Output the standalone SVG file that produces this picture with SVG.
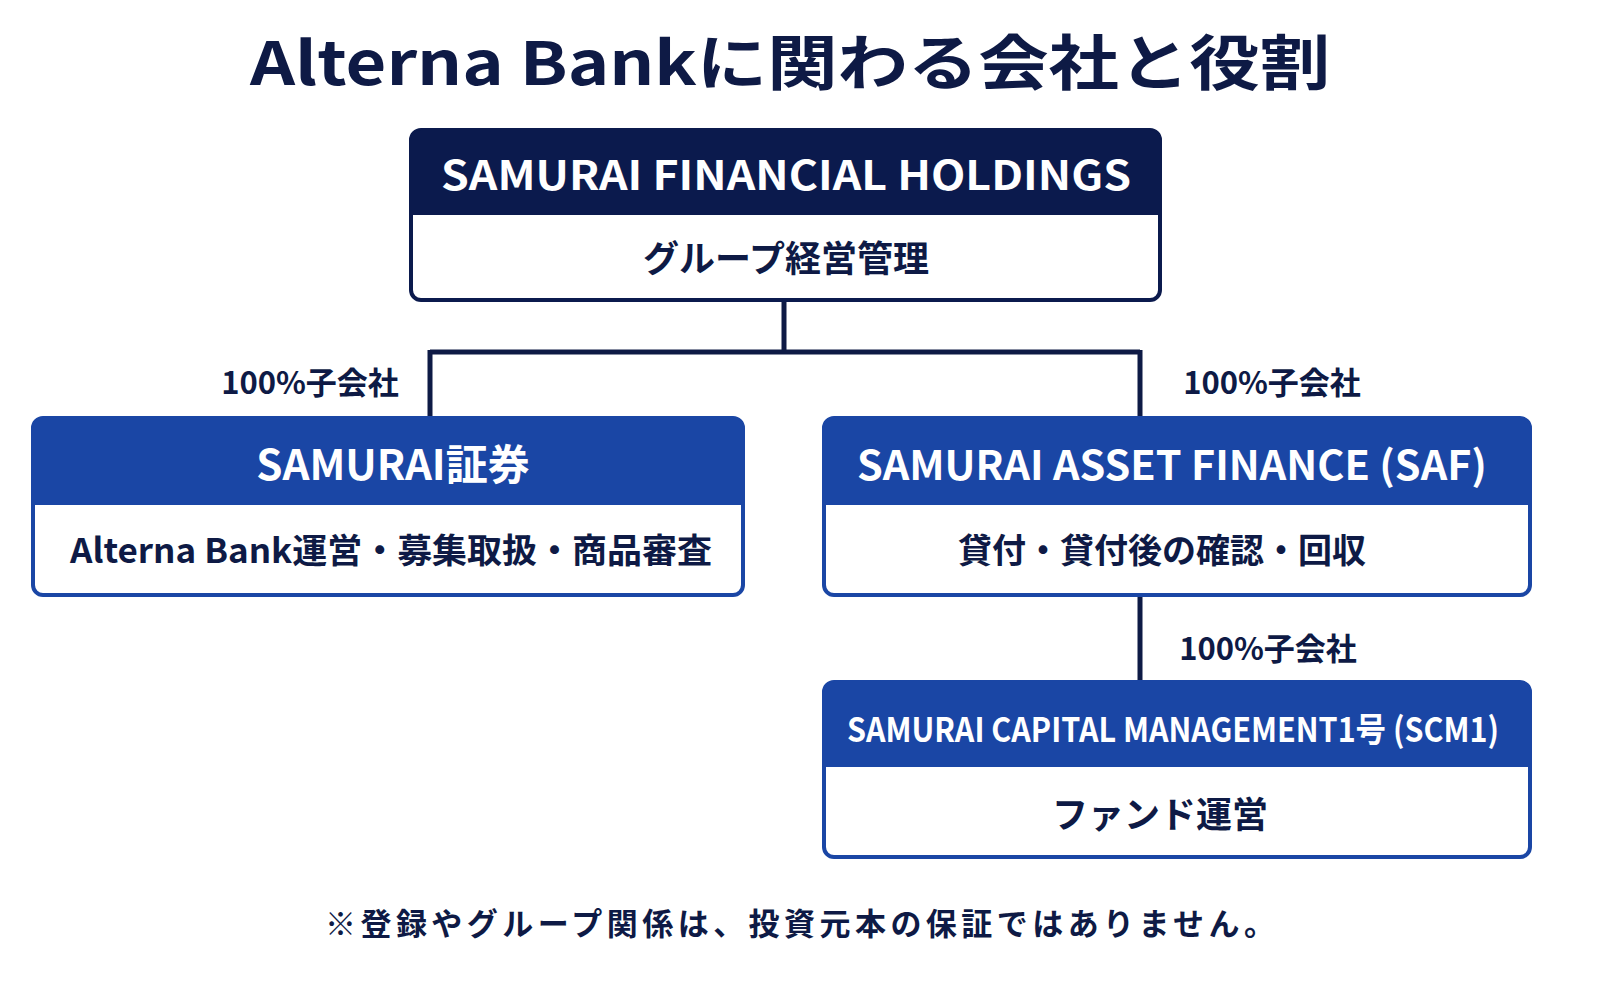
<svg xmlns="http://www.w3.org/2000/svg" width="1601" height="983" viewBox="0 0 1601 983">
<style>
text{font-family:"Noto Sans CJK JP","Noto Sans",sans-serif;font-weight:700;text-anchor:middle}
.hd{fill:#fff}
.dk{fill:#0e1a45}
.frame{fill:#fff;stroke-width:4}
.conn{stroke:#0e1a45;stroke-width:5;fill:none}
</style>
<rect width="1601" height="983" fill="#fff"/>
<text x="790" y="85" font-size="60" class="dk" textLength="1080" lengthAdjust="spacingAndGlyphs">Alterna Bankに関わる会社と役割</text>
<g id="connectors">
<path class="conn" d="M784 300V352M430 352H1140M430 350V418M1140 350V418M1140 595V682"/>
</g>
<g id="labels">
<text x="310" y="394" font-size="31" class="dk">100%子会社</text>
<text x="1272" y="394" font-size="31" class="dk">100%子会社</text>
<text x="1268" y="660" font-size="31" class="dk">100%子会社</text>
</g>
<g id="holdings">
<rect x="411" y="130" width="749" height="170" rx="10" class="frame" stroke="#0b1a4d"/>
<path d="M411 140a10 10 0 0 1 10-10h729a10 10 0 0 1 10 10v75H411z" fill="#0b1a4d"/>
<text x="786" y="190" font-size="40" class="hd" textLength="690" lengthAdjust="spacingAndGlyphs">SAMURAI FINANCIAL HOLDINGS</text>
<text x="786" y="272" font-size="36" class="dk">グループ経営管理</text>
</g>
<g id="shoken">
<rect x="33" y="418" width="710" height="177" rx="10" class="frame" stroke="#1a46a5"/>
<path d="M33 428a10 10 0 0 1 10-10h690a10 10 0 0 1 10 10v77H33z" fill="#1a46a5"/>
<text x="393" y="480" font-size="42" class="hd">SAMURAI証券</text>
<text x="391" y="563" font-size="34" class="dk" textLength="642" lengthAdjust="spacingAndGlyphs">Alterna Bank運営・募集取扱・商品審査</text>
</g>
<g id="saf">
<rect x="824" y="418" width="706" height="177" rx="10" class="frame" stroke="#1a46a5"/>
<path d="M824 428a10 10 0 0 1 10-10h686a10 10 0 0 1 10 10v77H824z" fill="#1a46a5"/>
<text x="1172" y="480" font-size="40" class="hd" textLength="630" lengthAdjust="spacingAndGlyphs">SAMURAI ASSET FINANCE (SAF)</text>
<text x="1162" y="563" font-size="34" class="dk">貸付・貸付後の確認・回収</text>
</g>
<g id="scm1">
<rect x="824" y="682" width="706" height="175" rx="10" class="frame" stroke="#1a46a5"/>
<path d="M824 692a10 10 0 0 1 10-10h686a10 10 0 0 1 10 10v75H824z" fill="#1a46a5"/>
<text x="1173" y="742" font-size="34" class="hd" textLength="652" lengthAdjust="spacingAndGlyphs">SAMURAI CAPITAL MANAGEMENT1号 (SCM1)</text>
<text x="1160" y="828" font-size="36" class="dk">ファンド運営</text>
</g>
<text x="800" y="935" font-size="31" class="dk" textLength="950" lengthAdjust="spacing">※登録やグループ関係は、投資元本の保証ではありません。</text>
</svg>
